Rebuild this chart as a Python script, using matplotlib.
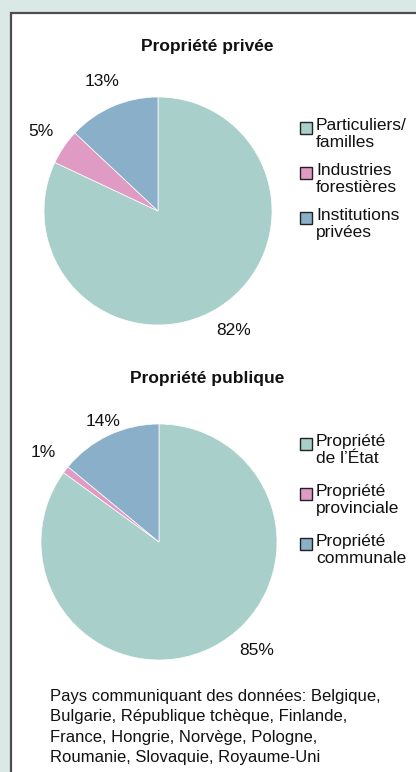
import numpy as np
import matplotlib.pyplot as plt
from matplotlib.patches import Rectangle

plt.rcParams['font.family'] = ['Liberation Sans', 'DejaVu Sans']

# data
priv_labels = ['Particuliers/\nfamilles', 'Industries\nforestières', 'Institutions\nprivées']
priv_values = [82, 5, 13]
pub_labels = ['Propriété\nde l\u2019État', 'Propriété\nprovinciale', 'Propriété\ncommunale']
pub_values = [85, 1, 14]
colors = ['#a9cfca', '#e09bc5', '#8aafc8']
note = ('Pays communiquant des données: Belgique,\n'
        'Bulgarie, République tchèque, Finlande,\n'
        'France, Hongrie, Norvège, Pologne,\n'
        'Roumanie, Slovaquie, Royaume-Uni')

W, H = 416, 772


def fx(px):
    return px / W


def fy(py):
    return 1 - py / H


fig = plt.figure(figsize=(W / 100, H / 100), dpi=100)
fig.patch.set_facecolor('#dbe9e6')

# white panel with dark border on top / left
fig.patches.append(Rectangle((fx(11), fy(800)), fx(440), (800 - 13) / H,
                             transform=fig.transFigure, facecolor='white',
                             edgecolor='#4d4d4d', linewidth=1.6, zorder=-5))


def pie_panel(cx, cy, r, values, labels, title, title_y, leg_top, leg_gap,
              label_pos=None):
    ax = fig.add_axes([fx(cx - r), fy(cy + r), 2 * r / W, 2 * r / H])
    ax.patch.set_alpha(0)
    wedges, texts, autotexts = ax.pie(
        values, colors=colors, startangle=90, counterclock=False,
        autopct=lambda p: f'{p:.0f}%', pctdistance=1.24,
        wedgeprops=dict(edgecolor='white', linewidth=0.5),
        textprops=dict(fontsize=12.5, color='#111111'))
    # label nudges (angle in degrees, distance in radii)
    if label_pos:
        for i, (ang, dist) in label_pos.items():
            a = np.deg2rad(ang)
            autotexts[i].set_position((dist * np.cos(a), dist * np.sin(a)))
    ax.set_xlim(-1, 1)
    ax.set_ylim(-1, 1)
    ax.set_aspect('equal')
    ax.axis('off')

    fig.text(fx(207), fy(title_y), title, ha='center', va='center',
             fontsize=12.5, fontweight='bold', color='#111111')

    # legend
    for i, (lab, col) in enumerate(zip(labels, colors)):
        y = leg_top + i * leg_gap
        fig.patches.append(Rectangle((fx(300), fy(y + 6)), 12 / W, 12 / H,
                                     transform=fig.transFigure, facecolor=col,
                                     edgecolor='#222222', linewidth=1.0))
        fig.text(fx(316), fy(y - 10), lab, ha='left', va='top',
                 fontsize=12.5, linespacing=1.15, color='#111111')


pie_panel(158, 211, 114, priv_values, priv_labels, 'Propriété privée', 47, 128, 45)
pie_panel(159, 542, 118, pub_values, pub_labels, 'Propriété publique', 378, 444, 50,
          label_pos={0: (-48, 1.24), 2: (115, 1.13)})

fig.text(fx(50), fy(689), note, ha='left', va='top', fontsize=12,
         linespacing=1.44, color='#111111')

fig.savefig('out.png', dpi=100, facecolor=fig.get_facecolor())
